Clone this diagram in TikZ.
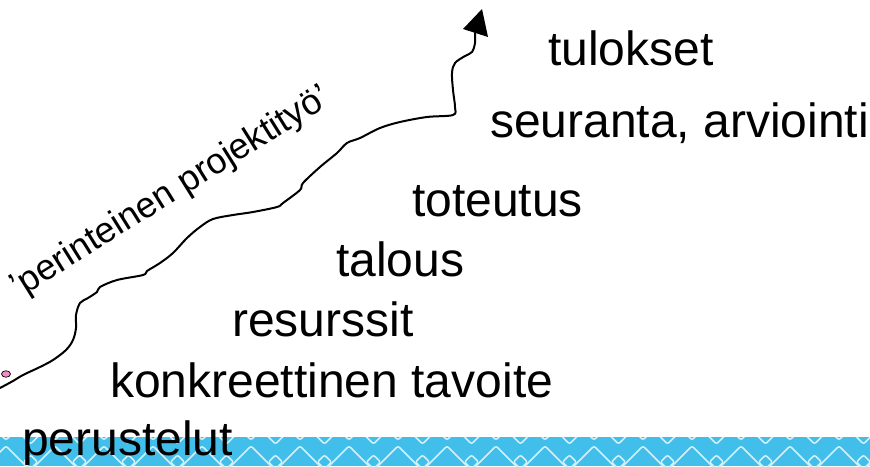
\documentclass[tikz,border=0pt]{standalone}
\usepackage{fontspec}
\setmainfont{Liberation Sans}
\usetikzlibrary{shapes.geometric}
\definecolor{bandblue}{HTML}{42BEEA}
\definecolor{patline}{HTML}{D2F0FA}
\definecolor{dotpink}{HTML}{F08CC8}
\begin{document}
\begin{tikzpicture}[x=1pt,y=-1pt,
  lbl/.style={anchor=base west,inner sep=0pt,font=\fontsize{48}{48}\selectfont},
  pat/.style={draw=patline,line width=1.5pt,rounded corners=2pt},
  curve/.style={line width=2pt,line join=round,line cap=round}]
\useasboundingbox (0,0) rectangle (870,466);
% band
\fill[bandblue] (0,437) rectangle (870,466);
\begin{scope}
\clip (0,437) rectangle (870,466);
\foreach \k in {-1,...,18}{
  \pgfmathsetmacro\xc{6+49*\k}
  \draw[pat] (\xc,446) -- ({\xc+22},468) -- (\xc,490) -- ({\xc-22},468) -- cycle;
  \draw[pat] ({\xc+24.5},400) -- ({\xc+46.5},422) -- ({\xc+24.5},444) -- ({\xc+2.5},422) -- cycle;
  \draw[pat] ({\xc+24.5},455) -- ({\xc+31.5},462) -- ({\xc+24.5},469) -- ({\xc+17.5},462) -- cycle;
  \draw[pat] (\xc,426) -- ({\xc+7},433) -- (\xc,440) -- ({\xc-7},433) -- cycle;
}
\end{scope}
% labels
\node[lbl] (tulokset) at (548,65) {tulokset};
\node[lbl] (seuranta) at (490,137) {seuranta, arviointi};
\node[lbl] (toteutus) at (412,216) {toteutus};
\node[lbl] (talous) at (336,276) {talous};
\node[lbl] (resurssit) at (232,336) {resurssit};
\node[lbl] (tavoite) at (110,397) {konkreettinen tavoite};
\node[lbl] (perustelut) at (22,455) {perustelut};
\node[inner sep=0pt,rotate=32,font=\fontsize{36}{36}\selectfont] (proj) at (171,193) {’perinteinen projektityö’};
% dot
\node[draw=black,fill=dotpink,ellipse,minimum width=9pt,minimum height=6.5pt,inner sep=0pt,line width=0.7pt] (dot) at (6,374) {};
% curve
\coordinate (start) at (0,388);
\draw[curve] plot[smooth,tension=0.55] coordinates {
(0,388) (13,381) (23,375) (40,367) (53,360) (66,350) (73,340) (76,328) (76,315) (80,303) (88,298) (97,292) (100,287) (117,280) (143,275) (147,271) (160,263) (173,253) (187,238) (200,227) (213,219) (233,215) (253,212) (277,207) (283,203) (300,190) (303,183) (320,167) (337,153) (347,143) (360,138) (380,128) (400,122) (427,117) (453,115) (455,107) (453,90) (452,73) (455,63) (465,56) (472,52) (475,43) (475,33)};
\coordinate (tip) at (482,9);
\fill[black] (463,29) -- (tip) -- (488,37) -- cycle;
\end{tikzpicture}
\end{document}
